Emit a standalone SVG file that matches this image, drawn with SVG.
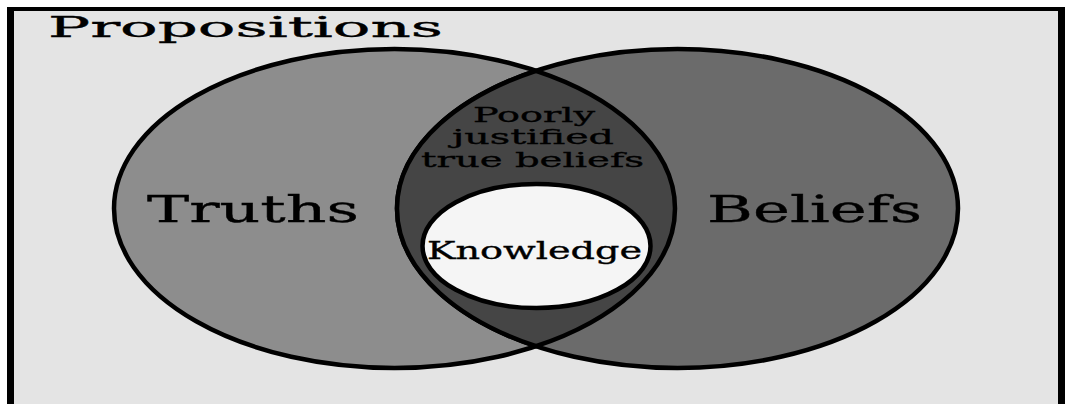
<svg xmlns="http://www.w3.org/2000/svg" width="1065" height="404" viewBox="0 0 1065 404">
  <style>
    .lbl { font-family: "DejaVu Serif", "Liberation Serif", serif; fill: #000; stroke: #000; stroke-width: 0.35; }
    .set { stroke: #000; stroke-width: 4.5; }
  </style>
  <rect x="0" y="0" width="1065" height="404" fill="#ffffff"/>
  <g id="propositions">
    <rect x="7" y="7" width="1070" height="420" fill="#000"/>
    <rect x="14" y="11" width="1044" height="420" fill="#e4e4e4"/>
    <text class="lbl" x="48" y="37" font-size="28.5" textLength="395" lengthAdjust="spacingAndGlyphs">Propositions</text>
  </g>
  <g id="truths">
    <ellipse class="set" cx="394.5" cy="208.5" rx="280.5" ry="159.5" fill="#8d8d8d"/>
    <text class="lbl" x="147" y="222" font-size="37.5" textLength="212" lengthAdjust="spacingAndGlyphs">Truths</text>
  </g>
  <g id="beliefs">
    <ellipse class="set" cx="677.5" cy="208.5" rx="280.5" ry="159.5" fill="#6b6b6b"/>
    <text class="lbl" x="707" y="222" font-size="37.5" textLength="215" lengthAdjust="spacingAndGlyphs">Beliefs</text>
  </g>
  <g id="poorly-justified">
    <path class="set" d="M536,70.78 A280.5,159.5 0 0 1 536,346.22 A280.5,159.5 0 0 1 536,70.78 Z" fill="#454545"/>
    <text class="lbl" font-size="21">
      <tspan x="473" y="122" textLength="122" lengthAdjust="spacingAndGlyphs">Poorly</tspan>
      <tspan x="452" y="144" textLength="162" lengthAdjust="spacingAndGlyphs">justified</tspan>
      <tspan x="421" y="167" textLength="223" lengthAdjust="spacingAndGlyphs">true beliefs</tspan>
    </text>
  </g>
  <g id="knowledge">
    <ellipse class="set" cx="536.5" cy="246" rx="114" ry="62" fill="#f5f5f5"/>
    <text class="lbl" x="427" y="259" font-size="24" textLength="215" lengthAdjust="spacingAndGlyphs">Knowledge</text>
  </g>
</svg>
